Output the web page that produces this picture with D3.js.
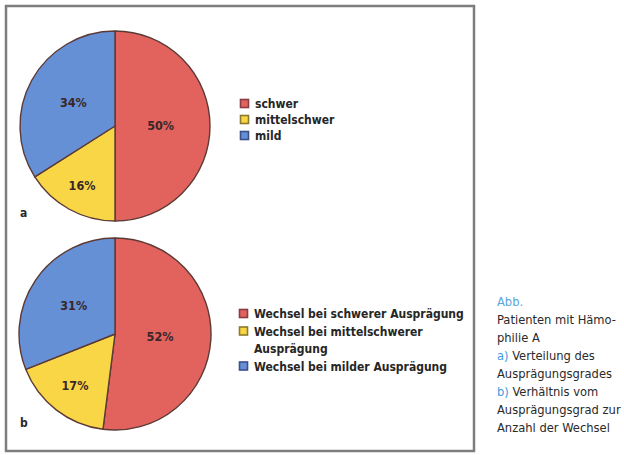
<!DOCTYPE html>
<html>
<head>
<meta charset="utf-8">
<script src="https://cdn.jsdelivr.net/npm/d3@7"></script>
<style>
  html, body { margin: 0; padding: 0; background: #fff; }
  svg { display: block; }
</style>
</head>
<body>
<svg id="chart" width="624" height="455"></svg>
<script>
// Severity of haemophilia A (panel a) and share of switches by severity (panel b)
const categoriesA = ["schwer", "mittelschwer", "mild"];
const valuesA = [50, 16, 34];

const categoriesB = ["Wechsel bei schwerer Ausprägung", "Wechsel bei mittelschwerer\nAusprägung", "Wechsel bei milder Ausprägung"];
const valuesB = [52, 17, 31];

const sliceColors = ["#e2635e", "#f8d645", "#6590d6"];
const swatchStroke = ["#8a3b44", "#8c7a2a", "#3b4f8a"];

const captionLines = [
  { parts: [{ t: "Abb.", c: "#5aa5dc" }] },
  { parts: [{ t: "Patienten mit Hämo-", c: "#2a2a2a" }] },
  { parts: [{ t: "philie A", c: "#2a2a2a" }] },
  { parts: [{ t: "a) ", c: "#3f9be0" }, { t: "Verteilung des", c: "#2a2a2a" }] },
  { parts: [{ t: "Ausprägungsgrades", c: "#2a2a2a" }] },
  { parts: [{ t: "b) ", c: "#3f9be0" }, { t: "Verhältnis vom", c: "#2a2a2a" }] },
  { parts: [{ t: "Ausprägungsgrad zur", c: "#2a2a2a" }] },
  { parts: [{ t: "Anzahl der Wechsel", c: "#2a2a2a" }] }
];

const svg = d3.select("#chart");
const font = "'DejaVu Sans Condensed', 'Liberation Sans Narrow', sans-serif";

// outer frame
svg.append("rect")
  .attr("x", 6).attr("y", 6)
  .attr("width", 468).attr("height", 445)
  .attr("fill", "none")
  .attr("stroke", "#7d7d7d")
  .attr("stroke-width", 2.5);

const pie = d3.pie().sort(null).value(d => d);

function drawPanel(cfg) {
  const g = svg.append("g").attr("transform", `translate(${cfg.cx},${cfg.cy})`);
  const arcs = pie(cfg.values);
  const arc = d3.arc().innerRadius(0).outerRadius(cfg.r);

  g.selectAll("path.slice")
    .data(arcs)
    .join("path")
    .attr("class", "slice")
    .attr("d", arc)
    .attr("fill", (d, i) => sliceColors[i])
    .attr("stroke", "#5b3a36")
    .attr("stroke-width", 1.4)
    .attr("stroke-linejoin", "round");

  g.selectAll("text.pct")
    .data(arcs)
    .join("text")
    .attr("class", "pct")
    .attr("transform", (d, i) => {
      const lr = cfg.r * cfg.labelFrac[i];
      const c = d3.arc().innerRadius(lr).outerRadius(lr).centroid(d);
      return `translate(${c[0]},${c[1]})`;
    })
    .attr("text-anchor", "middle")
    .attr("dy", "0.35em")
    .attr("font-family", font)
    .attr("font-weight", "bold")
    .attr("font-size", 12.5)
    .attr("fill", "#3a2628")
    .text(d => d.data + "%");

  // panel letter
  svg.append("text")
    .attr("x", 20).attr("y", cfg.letterY)
    .attr("font-family", font)
    .attr("font-weight", "bold")
    .attr("font-size", 12)
    .attr("fill", "#2a2a2a")
    .text(cfg.letter);

  // legend
  const lg = svg.append("g").attr("transform", `translate(${cfg.legX},${cfg.legY})`);
  let y = 0;
  cfg.categories.forEach((name, i) => {
    const lines = name.split("\n");
    lg.append("rect")
      .attr("x", 0.5).attr("y", y - 4.5)
      .attr("width", 8).attr("height", 8)
      .attr("fill", sliceColors[i])
      .attr("stroke", swatchStroke[i])
      .attr("stroke-width", 1.6);
    lines.forEach((ln, k) => {
      lg.append("text")
        .attr("x", 15).attr("y", y + k * cfg.lineH)
        .attr("dy", "0.35em")
        .attr("font-family", font)
        .attr("font-weight", "bold")
        .attr("font-size", cfg.legFont)
        .attr("fill", "#262626")
        .text(ln);
    });
    y += lines.length * cfg.lineH;
  });
}

drawPanel({
  cx: 115, cy: 126, r: 95,
  values: valuesA, categories: categoriesA,
  labelFrac: [0.48, 0.72, 0.5],
  letter: "a", letterY: 217,
  legX: 240, legY: 104, lineH: 16, legFont: 12
});

drawPanel({
  cx: 115, cy: 334, r: 96,
  values: valuesB, categories: categoriesB,
  labelFrac: [0.47, 0.68, 0.52],
  letter: "b", letterY: 427,
  legX: 239, legY: 314, lineH: 17.5, legFont: 12
});

// caption beside the figure
const cap = svg.append("g");
captionLines.forEach((line, i) => {
  const t = cap.append("text")
    .attr("x", 497)
    .attr("y", 306 + i * 18)
    .attr("font-family", font)
    .attr("font-size", 12.8);
  line.parts.forEach(p => t.append("tspan").attr("fill", p.c).text(p.t));
});
</script>
</body>
</html>
